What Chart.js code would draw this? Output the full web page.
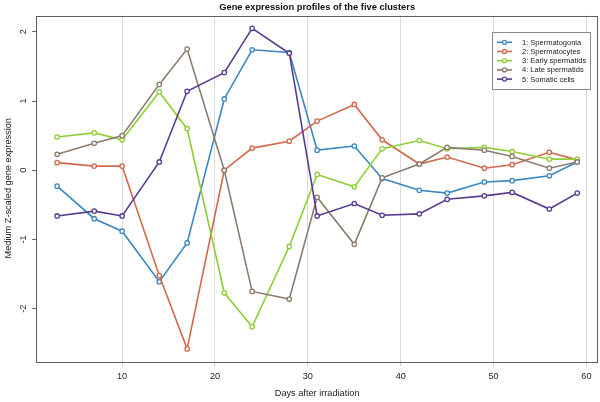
<!DOCTYPE html>
<html><head><meta charset="utf-8">
<script src="https://cdn.jsdelivr.net/npm/chart.js@4.4.1/dist/chart.umd.min.js"></script>
<style>html,body{margin:0;padding:0;background:#fff}#wrap{width:600px;height:402px}</style>
</head><body><div id="wrap"><canvas id="c" width="600" height="402"></canvas></div>
<script>
const days = [3,7,10,14,17,21,24,28,31,35,38,42,45,49,52,56,59];
const seriesNames = ["1: Spermatogonia","2: Spermatocytes","3: Early spermatids","4: Late spermatids","5: Somatic cells"];
const spermatogonia   = [-0.23,-0.70,-0.88,-1.61,-1.05, 1.03, 1.74, 1.70, 0.29, 0.35,-0.12,-0.29,-0.33,-0.17,-0.15,-0.08, 0.12];
const spermatocytes   = [ 0.11, 0.06, 0.06,-1.52,-2.58, 0.00, 0.32, 0.42, 0.71, 0.95, 0.44, 0.09, 0.19, 0.03, 0.08, 0.26, 0.15];
const earlySpermatids = [ 0.48, 0.54, 0.44, 1.13, 0.60,-1.77,-2.26,-1.10,-0.06,-0.24, 0.31, 0.43, 0.31, 0.33, 0.27, 0.16, 0.16];
const lateSpermatids  = [ 0.23, 0.39, 0.50, 1.24, 1.75, 0.00,-1.75,-1.86,-0.39,-1.07,-0.11, 0.09, 0.33, 0.29, 0.20, 0.03, 0.12];
const somaticCells    = [-0.66,-0.59,-0.66, 0.12, 1.14, 1.41, 2.05, 1.69,-0.66,-0.48,-0.65,-0.63,-0.42,-0.37,-0.32,-0.56,-0.33];
const xTicks = [10,20,30,40,50,60];
const yTicks = [-2,-1,0,1,2];
const chartTitle = "Gene expression profiles of the five clusters";
const colors = ["#3b88c3","#d2694c","#8fcf36","#8b7c6d","#573c92"];

const FONT = "'Liberation Sans', Arial, Helvetica, sans-serif";
const allSeries = [spermatogonia, spermatocytes, earlySpermatids, lateSpermatids, somaticCells];

const datasets = allSeries.map((vals, i) => ({
  label: seriesNames[i],
  data: days.map((d, j) => ({x: d, y: vals[j]})),
  borderColor: colors[i],
  backgroundColor: colors[i],
  pointBackgroundColor: "#ffffff",
  pointBorderColor: colors[i],
  pointRadius: 2.2,
  pointBorderWidth: 1.3,
  borderWidth: 1.6,
  tension: 0,
  order: allSeries.length - i
}));

const boxPlugin = {
  id: "boxAndLegend",
  afterDraw(chart) {
    const ctx = chart.ctx;
    const a = chart.chartArea;
    ctx.save();
    // title centred over the plot area
    ctx.fillStyle = "#111";
    ctx.font = "bold 9.3px " + FONT;
    ctx.textAlign = "center";
    ctx.textBaseline = "alphabetic";
    ctx.fillText(chartTitle, (a.left + a.right) / 2, 9.8);
    // plot box
    ctx.strokeStyle = "#5e5e5e";
    ctx.lineWidth = 1;
    ctx.strokeRect(Math.round(a.left) + 0.5, Math.round(a.top) + 0.5,
                   Math.round(a.right - a.left) - 1, Math.round(a.bottom - a.top));
    // y tick labels, rotated
    const ys = chart.scales.y;
    ctx.fillStyle = "#222";
    ctx.font = "9.2px " + FONT;
    ctx.textAlign = "center";
    ctx.textBaseline = "middle";
    yTicks.forEach(v => {
      const py = ys.getPixelForValue(v);
      ctx.save();
      ctx.translate(23.5, py);
      ctx.rotate(-Math.PI / 2);
      ctx.fillText(String(v), 0, 0);
      ctx.restore();
    });
    // legend
    const lx = 492, ly = 32, lw = 98, lh = 57;
    ctx.fillStyle = "#fff";
    ctx.fillRect(lx, ly, lw, lh);
    ctx.strokeStyle = "#8a8a8a";
    ctx.strokeRect(lx + 0.5, ly + 0.5, lw, lh);
    ctx.font = "7.5px " + FONT;
    ctx.textAlign = "left";
    ctx.textBaseline = "middle";
    chart.data.datasets.forEach((ds, i) => {
      const cy = ly + 10.3 + i * 9.2;
      ctx.strokeStyle = ds.borderColor;
      ctx.lineWidth = 1.6;
      ctx.beginPath();
      ctx.moveTo(lx + 5, cy);
      ctx.lineTo(lx + 20, cy);
      ctx.stroke();
      ctx.beginPath();
      ctx.arc(lx + 12.5, cy, 2.0, 0, Math.PI * 2);
      ctx.fillStyle = "#fff";
      ctx.fill();
      ctx.lineWidth = 1.3;
      ctx.stroke();
      ctx.fillStyle = "#222";
      ctx.fillText(ds.label, lx + 30, cy + 0.5);
    });
    ctx.restore();
  }
};

new Chart(document.getElementById("c"), {
  type: "line",
  data: { datasets },
  plugins: [boxPlugin],
  options: {
    responsive: false,
    animation: false,
    devicePixelRatio: 1,
    layout: { autoPadding: false, padding: { left: 0, right: 2, top: 15.5, bottom: 0 } },
    plugins: {
      legend: { display: false },
      tooltip: { enabled: false },
      title: { display: false }
    },
    scales: {
      x: {
        type: "linear",
        min: 0.76,
        max: 61.24,
        afterBuildTicks: s => { s.ticks = xTicks.map(v => ({ value: v })); },
        afterFit: s => { s.height = 41; s.paddingLeft = 0; s.paddingRight = 0; },
        grid: { color: "#dcdcdc", lineWidth: 1, tickColor: "#cfcfcf", tickLength: 5, drawTicks: true },
        border: { display: false },
        ticks: { color: "#222", font: { family: FONT, size: 9.2 }, padding: 5, maxRotation: 0, autoSkip: false },
        title: { display: true, text: "Days after irradiation", color: "#222",
                 font: { family: FONT, size: 9.2 }, padding: { top: 0, bottom: 3 } }
      },
      y: {
        type: "linear",
        min: -2.755,
        max: 2.235,
        afterBuildTicks: s => { s.ticks = yTicks.map(v => ({ value: v })); },
        afterFit: s => { s.width = 36.3; s.paddingTop = 0; s.paddingBottom = 0; },
        grid: { drawOnChartArea: false, tickColor: "#5e5e5e", tickLength: 4, drawTicks: true },
        border: { display: false },
        ticks: { display: false },
        title: { display: true, text: "Medium Z-scaled gene expression", color: "#222",
                 font: { family: FONT, size: 9.2 }, padding: { top: 2.5, bottom: 0 } }
      }
    }
  }
});
</script>
</body></html>
